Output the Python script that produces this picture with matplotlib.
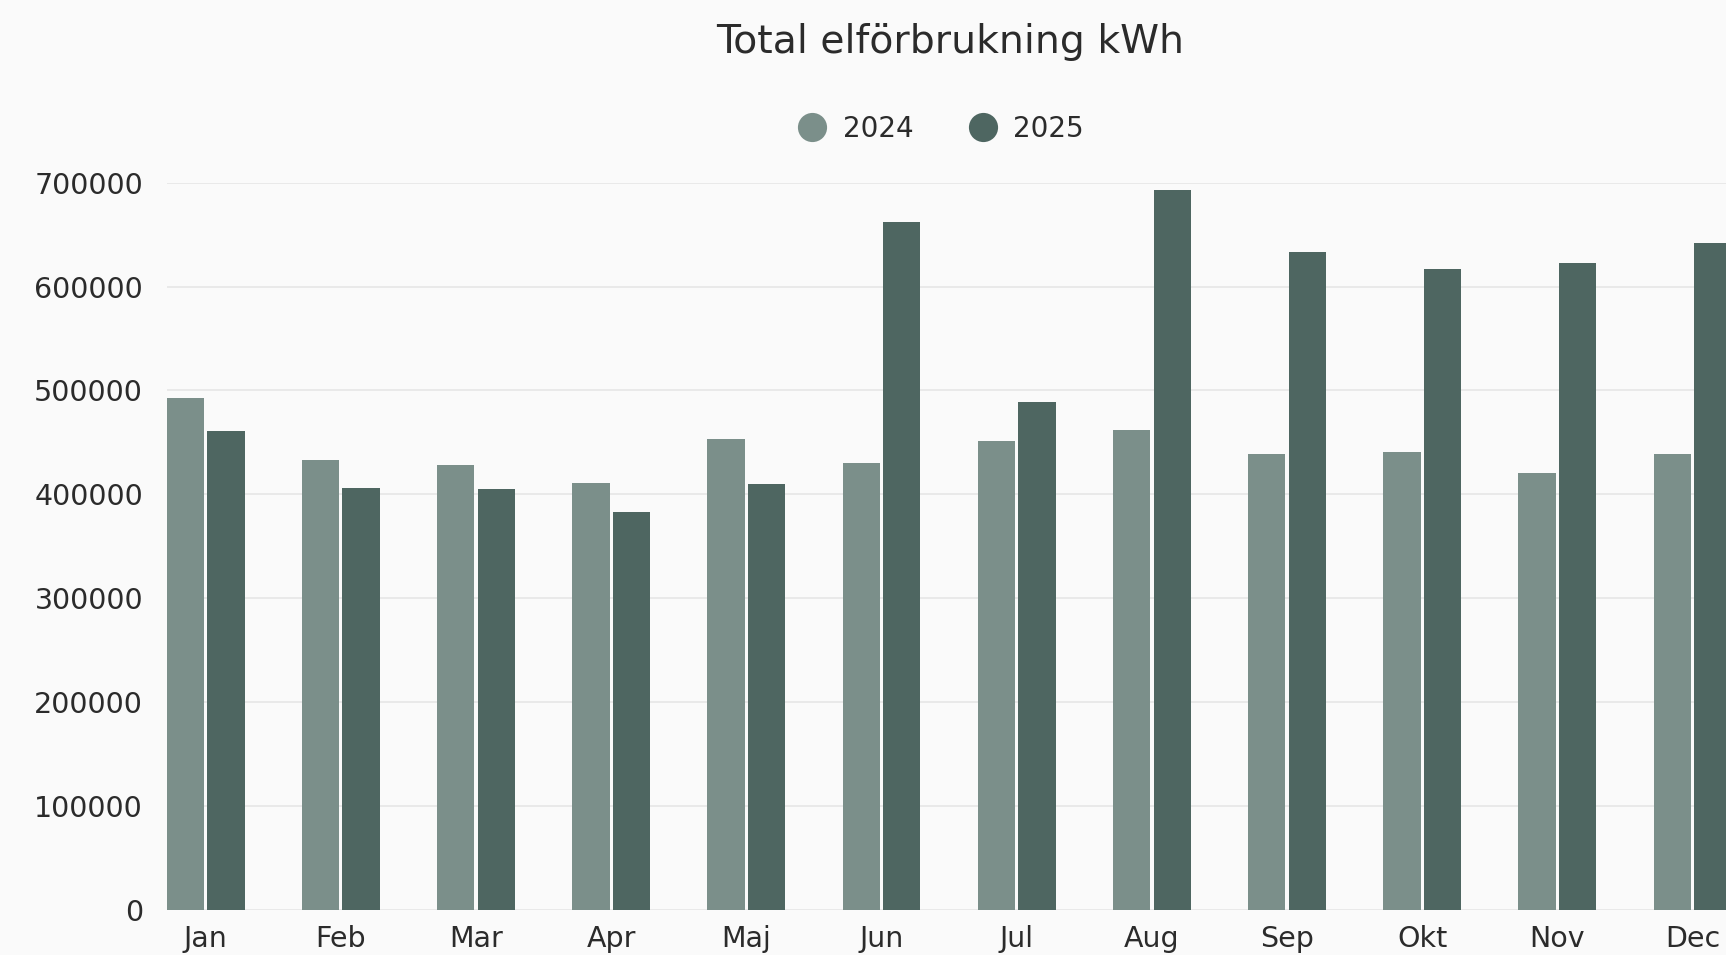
import matplotlib
matplotlib.use("Agg")
import matplotlib.pyplot as plt
from matplotlib.lines import Line2D
import numpy as np

months = ["Jan", "Feb", "Mar", "Apr", "Maj", "Jun", "Jul", "Aug", "Sep", "Okt", "Nov", "Dec"]
values_2024 = [492500, 433500, 428000, 411000, 453000, 430000, 451500, 462000, 439000, 441000, 421000, 438600]
values_2025 = [461000, 406000, 405000, 383000, 410000, 662000, 488500, 692600, 633000, 616600, 622400, 642000]
series_labels = ["2024", "2025"]
y_ticks = [0, 100000, 200000, 300000, 400000, 500000, 600000, 700000]

c24 = "#7b8f8a"
c25 = "#4e6661"
bg = "#fafafa"
txt = "#2b2b2b"

plt.rcParams['font.family'] = ['DejaVu Sans']

fig = plt.figure(figsize=(17.26, 9.55), dpi=100, facecolor=bg)
ax = fig.add_axes([0.0966, 0.0471, 0.9066, 0.7616], facecolor=bg)

x = np.arange(len(months))
w = 0.276
off = 0.150
ax.bar(x - off, values_2024, width=w, color=c24, zorder=3)
ax.bar(x + off, values_2025, width=w, color=c25, zorder=3)

ax.set_xlim(-0.288, len(months) - 1 + 0.288)
ax.set_ylim(0, 700000)
ax.set_yticks(y_ticks)
ax.set_yticklabels([str(v) for v in y_ticks])
ax.set_xticks(x)
ax.set_xticklabels(months)
ax.tick_params(axis='both', length=0, labelsize=20.5, colors=txt)
ax.tick_params(axis='y', pad=17)
ax.tick_params(axis='x', pad=11)
ax.grid(axis='y', color="#e6e6e6", linewidth=1.2, zorder=0)
for s in ax.spines.values():
    s.set_visible(False)

fig.text(950 / 1726, 1 - 42 / 955, "Total elförbrukning kWh", ha='center', va='center',
         fontsize=28.4, color=txt)

handles = [Line2D([], [], marker='o', linestyle='none', markersize=21, color=c, markeredgewidth=0)
           for c in (c24, c25)]
fig.legend(handles, series_labels, loc='center', bbox_to_anchor=(941 / 1726, 1 - 129 / 955),
           ncol=2, frameon=False, fontsize=20, handletextpad=0.6, columnspacing=2.0,
           labelcolor=txt, handlelength=1.0)

fig.savefig("out.png", dpi=100, facecolor=bg)
